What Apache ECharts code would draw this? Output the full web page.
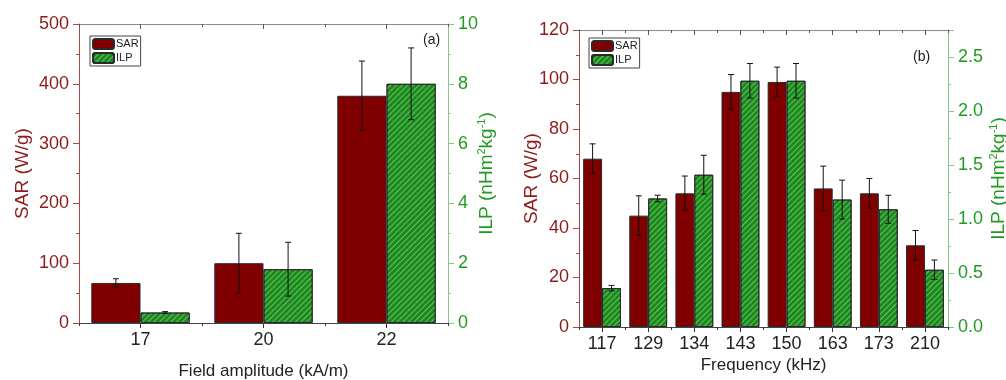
<!DOCTYPE html>
<html>
<head>
<meta charset="utf-8">
<script src="https://cdn.jsdelivr.net/npm/echarts@6/dist/echarts.min.js"></script>
<style>html,body{margin:0;padding:0;background:#fff}#c{width:1006px;height:380px}</style>
</head>
<body>
<div id="c"></div>
<script>
// ---- Data: panel (a) ----
var fieldCats = ['17', '20', '22'];
var sarA = [67, 100, 380];
var sarAErr = [7, 50, 58];
var ilpA = [0.35, 1.8, 8.0];
var ilpAErr = [0.03, 0.9, 1.2];
// ---- Data: panel (b) ----
var freqCats = ['117', '129', '134', '143', '150', '163', '173', '210'];
var sarB = [68, 45, 54, 95, 99, 56, 54, 33];
var sarBErr = [6, 8, 7, 7, 6, 9, 6, 6];
var ilpB = [0.36, 1.19, 1.41, 2.28, 2.28, 1.18, 1.09, 0.53];
var ilpBErr = [0.025, 0.03, 0.18, 0.16, 0.16, 0.18, 0.13, 0.09];

var RED = '#800000', REDTXT = '#8e1b1b', REDLINE = '#a84848';
var GREEN = '#1a8a1a', GREENTXT = '#229a22', GREENLINE = '#86c986';
var FONT = '"Liberation Sans", Arial, sans-serif';

var hatch = {
  symbol: 'rect', symbolSize: 1, dashArrayX: [1, 0], dashArrayY: [1, 3],
  rotation: -Math.PI / 4, color: 'rgba(140,210,140,0.7)', backgroundColor: null
};

function errSeries(name, data, errs, xi, yi, off) {
  return {
    type: 'custom', name: name + 'err', xAxisIndex: xi, yAxisIndex: yi, z: 10, silent: true,
    data: data.map(function (v, i) { return [i, v, errs[i]]; }),
    encode: { x: 0, y: 1 },
    renderItem: function (params, api) {
      var i = api.value(0), v = api.value(1), e = api.value(2);
      var band = api.size([1, 0])[0];
      var top = api.coord([i, v + e]);
      var bot = api.coord([i, v - e]);
      var x = top[0] + off * band;
      var cap = 3;
      var st = { stroke: '#111', lineWidth: 1 };
      return { type: 'group', children: [
        { type: 'line', shape: { x1: x, y1: top[1], x2: x, y2: bot[1] }, style: st },
        { type: 'line', shape: { x1: x - cap, y1: top[1], x2: x + cap, y2: top[1] }, style: st },
        { type: 'line', shape: { x1: x - cap, y1: bot[1], x2: x + cap, y2: bot[1] }, style: st }
      ]};
    }
  };
}

function xAxes(gi, cats, nameStr, gap) {
  var base = { type: 'category', gridIndex: gi, data: cats, boundaryGap: true };
  return [
    Object.assign({}, base, {
      position: 'bottom', name: nameStr, nameLocation: 'middle', nameGap: gap, nameMoveOverlap: false,
      nameTextStyle: { fontFamily: FONT, fontSize: 17, color: '#222' },
      axisLine: { show: true, lineStyle: { color: '#444', width: 1 } },
      axisTick: { show: true, alignWithLabel: true, length: 5, lineStyle: { color: '#333' } },
      axisLabel: { fontFamily: FONT, fontSize: 18, color: '#222', margin: 8 }
    }),
    Object.assign({}, base, {
      position: 'bottom', axisLine: { show: false },
      axisTick: { show: true, length: 3, lineStyle: { color: '#333' } }, axisLabel: { show: false }
    }),
    Object.assign({}, base, {
      position: 'top', axisLine: { show: true, lineStyle: { color: '#8a8a8a', width: 1 } },
      axisTick: { show: true, inside: true, alignWithLabel: true, length: 5, lineStyle: { color: '#555' } },
      axisLabel: { show: false }
    }),
    Object.assign({}, base, {
      position: 'top', axisLine: { show: false },
      axisTick: { show: true, inside: true, length: 3, lineStyle: { color: '#555' } }, axisLabel: { show: false }
    })
  ];
}

function yAxis(gi, pos, min, max, interval, color, lineColor, name, gap, fmt) {
  var rich = {
    n: { fontFamily: FONT, fontSize: 19, color: color, lineHeight: 22 },
    s: { fontFamily: FONT, fontSize: 11, color: color, verticalAlign: 'top', lineHeight: 22, padding: [0, 0, 8, 0] }
  };
  return {
    type: 'value', gridIndex: gi, position: pos, min: min, max: max, interval: interval,
    name: name, nameLocation: 'middle', nameGap: gap, nameMoveOverlap: false,
    nameTextStyle: { fontFamily: FONT, fontSize: 19, color: color, rich: rich },
    axisLine: { show: true, lineStyle: { color: lineColor, width: 1 } },
    axisTick: { show: true, inside: false, length: 6, lineStyle: { color: lineColor } },
    minorTick: { show: true, splitNumber: 2, length: 3, lineStyle: { color: lineColor } },
    splitLine: { show: false }, minorSplitLine: { show: false },
    axisLabel: { fontFamily: FONT, fontSize: 18, color: color, margin: 10, showMaxLabel: true, formatter: fmt }
  };
}

var ilpName = '{n|ILP (nHm}{s|2}{n|kg}{s|-1}{n|)}';
var sarName = '{n|SAR (W/g)}';

var xa = xAxes(0, fieldCats, 'Field amplitude (kA/m)', 40).concat(xAxes(1, freqCats, 'Frequency (kHz)', 30));

var ya = [
  yAxis(0, 'left', 0, 500, 100, REDTXT, REDLINE, sarName, 45),
  yAxis(0, 'right', 0, 10, 2, GREENTXT, GREENLINE, ilpName, 28),
  yAxis(1, 'left', 0, 120, 20, REDTXT, REDLINE, sarName, 36),
  yAxis(1, 'right', 0, 2.75, 0.5, GREENTXT, GREENLINE, ilpName, 40, function (v) { return v.toFixed(1); })
];
ya[3].axisLabel.showMaxLabel = false;

var barBorder = { borderColor: '#2a2a2a', borderWidth: 1 };

var option = {
  animation: false,
  backgroundColor: '#fff',
  grid: [
    { left: 79, right: 558, top: 24, bottom: 57, outerBoundsMode: 'none', containLabel: false },
    { left: 579, right: 58, top: 30, bottom: 53, outerBoundsMode: 'none', containLabel: false }
  ],
  legend: [
    { left: 90, top: 36, orient: 'vertical', itemGap: 2, itemWidth: 21, itemHeight: 10, padding: [2, 2, 2, 2],
      borderColor: '#444', borderWidth: 1, data: ['SAR', 'ILP'],
      textStyle: { fontFamily: FONT, fontSize: 11, color: '#222', padding: [0, 0, 0, -3] } },
    { left: 589, top: 38, orient: 'vertical', itemGap: 2, itemWidth: 21, itemHeight: 10, padding: [2, 2, 2, 2],
      borderColor: '#444', borderWidth: 1, data: ['SAR', 'ILP'],
      textStyle: { fontFamily: FONT, fontSize: 11, color: '#222', padding: [0, 0, 0, -3] } }
  ],
  xAxis: xa,
  yAxis: ya,
  series: [
    { type: 'bar', name: 'SAR', xAxisIndex: 0, yAxisIndex: 0, data: sarA, barGap: '0%', barCategoryGap: '20%',
      itemStyle: Object.assign({ color: RED }, barBorder) },
    { type: 'bar', name: 'ILP', xAxisIndex: 0, yAxisIndex: 1, data: ilpA, barGap: '0%', barCategoryGap: '20%',
      itemStyle: Object.assign({ color: GREEN, decal: hatch }, barBorder) },
    errSeries('SAR', sarA, sarAErr, 0, 0, -0.2),
    errSeries('ILP', ilpA, ilpAErr, 0, 1, 0.2),
    { type: 'bar', name: 'SAR', xAxisIndex: 4, yAxisIndex: 2, data: sarB, barGap: '0%', barCategoryGap: '18%',
      itemStyle: Object.assign({ color: RED }, barBorder) },
    { type: 'bar', name: 'ILP', xAxisIndex: 4, yAxisIndex: 3, data: ilpB, barGap: '0%', barCategoryGap: '18%',
      itemStyle: Object.assign({ color: GREEN, decal: hatch }, barBorder) },
    errSeries('SAR', sarB, sarBErr, 4, 2, -0.205),
    errSeries('ILP', ilpB, ilpBErr, 4, 3, 0.205)
  ],
  graphic: [
    { type: 'text', left: 423, top: 33, style: { text: '(a)', fontFamily: FONT, fontSize: 14, fill: '#222' } },
    { type: 'text', left: 913, top: 50, style: { text: '(b)', fontFamily: FONT, fontSize: 14, fill: '#222' } }
  ]
};

var chart = echarts.init(document.getElementById('c'), null, { renderer: 'canvas' });
chart.setOption(option);
</script>
</body>
</html>
